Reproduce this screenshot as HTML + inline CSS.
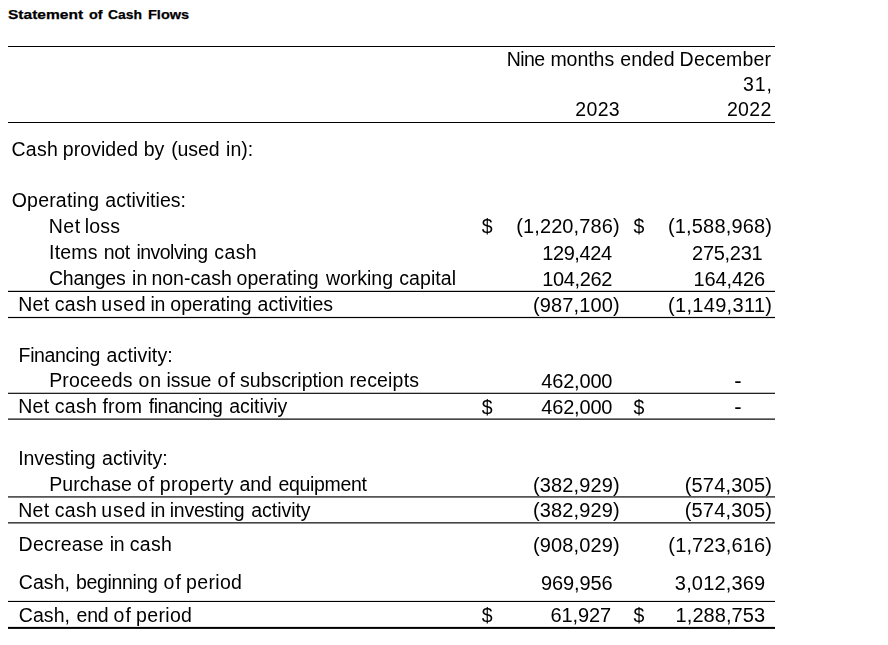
<!DOCTYPE html>
<html>
<head>
<meta charset="utf-8">
<title>Statement of Cash Flows</title>
<style>
html,body{margin:0;padding:0;background:#fff;}
body{width:888px;height:645px;position:relative;overflow:hidden;font-family:"Liberation Sans",sans-serif;color:#000;}
#tbl{position:absolute;left:0;top:0;width:888px;height:645px;will-change:transform;}
.t{position:absolute;white-space:pre;font-size:19.5px;line-height:20px;height:20px;}
.n{font-size:20px;}
.h{font-size:22px;}
svg{position:absolute;left:0;top:0;}
h1{position:absolute;left:0;top:0;margin:0;font-size:13.5px;line-height:16px;font-weight:bold;white-space:nowrap;}
h1 span{position:absolute;top:7px;transform-origin:0 0;-webkit-text-stroke:0.25px #000;}
</style>
</head>
<body>
<h1><span style="left:8.2px;transform:scaleX(1.15)">Statement</span><span style="left:88.75px;transform:scaleX(1.07)">of</span><span style="left:108px;transform:scaleX(1.03)">Cash</span><span style="left:148px;transform:scaleX(1.075)">Flows</span></h1>
<div id="tbl">
<svg width="888" height="645" viewBox="0 0 888 645">
<rect x="8" y="46" width="767" height="1" fill="#000"/>
<rect x="8" y="122" width="767" height="1" fill="#000"/>
<rect x="8" y="290.8" width="767" height="1.2" fill="#000"/>
<rect x="8" y="316.9" width="767" height="1.2" fill="#000"/>
<rect x="8" y="392.7" width="767" height="1.3" fill="#222"/>
<rect x="8" y="418.4" width="767" height="1.5" fill="#333"/>
<rect x="8" y="496.1" width="767" height="1.6" fill="#444"/>
<rect x="8" y="522.0" width="767" height="1.6" fill="#444"/>
<rect x="8" y="600.9" width="767" height="1.1" fill="#000"/>
<rect x="8" y="626.9" width="767" height="2" fill="#000"/>
</svg>
<div class="t" style="left:506.73px;top:49px;letter-spacing:-0.540px">Nine</div>
<div class="t" style="left:550.39px;top:49px;letter-spacing:-0.029px">months</div>
<div class="t" style="left:620.33px;top:49px;letter-spacing:-0.016px">ended</div>
<div class="t" style="left:679.58px;top:49px;letter-spacing:0.220px">December</div>
<div class="t" style="left:743.02px;top:74px;letter-spacing:0.850px">31,</div>
<div class="t" style="left:575.18px;top:99px;letter-spacing:0.383px">2023</div>
<div class="t" style="left:726.94px;top:99px;letter-spacing:0.303px">2022</div>
<div class="t" style="left:11.38px;top:139px;letter-spacing:0.312px">Cash</div>
<div class="t" style="left:62.76px;top:139px;letter-spacing:0.064px">provided</div>
<div class="t" style="left:143.76px;top:139px;letter-spacing:-0.084px">by</div>
<div class="t" style="left:171.15px;top:139px;letter-spacing:-0.068px">(used</div>
<div class="t" style="left:226.03px;top:139px;letter-spacing:0.049px">in):</div>
<div class="t" style="left:11.71px;top:190px;letter-spacing:0.205px">Operating</div>
<div class="t" style="left:105.30px;top:190px;letter-spacing:0.055px">activities:</div>
<div class="t" style="left:48.73px;top:216px;letter-spacing:0.530px">Net</div>
<div class="t" style="left:84.85px;top:216px;letter-spacing:0.145px">loss</div>
<div class="t" style="left:49.04px;top:242px;letter-spacing:0.193px">Items</div>
<div class="t" style="left:103.82px;top:242px;letter-spacing:-0.416px">not</div>
<div class="t" style="left:136.50px;top:242px;letter-spacing:-0.545px">involving</div>
<div class="t" style="left:214.20px;top:242px;letter-spacing:0.447px">cash</div>
<div class="t" style="left:48.91px;top:268px;letter-spacing:-0.219px">Changes</div>
<div class="t" style="left:132.03px;top:268px;letter-spacing:0.165px">in</div>
<div class="t" style="left:151.39px;top:268px;letter-spacing:0.027px">non-cash</div>
<div class="t" style="left:236.46px;top:268px;letter-spacing:0.113px">operating</div>
<div class="t" style="left:326.00px;top:268px;letter-spacing:-0.036px">working</div>
<div class="t" style="left:399.33px;top:268px;letter-spacing:0.045px">capital</div>
<div class="t" style="left:18.17px;top:294px;letter-spacing:0.354px">Net</div>
<div class="t" style="left:54.82px;top:294px;letter-spacing:0.264px">cash</div>
<div class="t" style="left:101.36px;top:294px;letter-spacing:0.676px">used</div>
<div class="t" style="left:150.50px;top:294px;letter-spacing:-0.442px">in</div>
<div class="t" style="left:170.35px;top:294px;letter-spacing:0.004px">operating</div>
<div class="t" style="left:257.55px;top:294px;letter-spacing:0.086px">activities</div>
<div class="t" style="left:18.58px;top:345px;letter-spacing:-0.350px">Financing</div>
<div class="t" style="left:106.55px;top:345px;letter-spacing:0.147px">activity:</div>
<div class="t" style="left:49.25px;top:370px;letter-spacing:0.113px">Proceeds</div>
<div class="t" style="left:138.46px;top:370px;letter-spacing:1.042px">on</div>
<div class="t" style="left:166.50px;top:370px;letter-spacing:-0.140px">issue</div>
<div class="t" style="left:217.46px;top:370px;letter-spacing:1.152px">of</div>
<div class="t" style="left:240.02px;top:370px;letter-spacing:-0.019px">subscription</div>
<div class="t" style="left:349.44px;top:370px;letter-spacing:0.183px">receipts</div>
<div class="t" style="left:18.17px;top:396px;letter-spacing:0.354px">Net</div>
<div class="t" style="left:54.82px;top:396px;letter-spacing:0.264px">cash</div>
<div class="t" style="left:102.56px;top:396px;letter-spacing:0.130px">from</div>
<div class="t" style="left:148.86px;top:396px;letter-spacing:-0.509px">financing</div>
<div class="t" style="left:229.30px;top:396px;letter-spacing:-0.063px">acitiviy</div>
<div class="t" style="left:18.27px;top:448px;letter-spacing:-0.097px">Investing</div>
<div class="t" style="left:101.95px;top:448px;letter-spacing:0.094px">activity:</div>
<div class="t" style="left:49.25px;top:474px;letter-spacing:0.040px">Purchase</div>
<div class="t" style="left:136.90px;top:474px;letter-spacing:1.008px">of</div>
<div class="t" style="left:159.76px;top:474px;letter-spacing:0.313px">property</div>
<div class="t" style="left:239.55px;top:474px;letter-spacing:-0.131px">and</div>
<div class="t" style="left:278.39px;top:474px;letter-spacing:-0.315px">equipment</div>
<div class="t" style="left:18.17px;top:500px;letter-spacing:0.354px">Net</div>
<div class="t" style="left:54.82px;top:500px;letter-spacing:0.264px">cash</div>
<div class="t" style="left:101.36px;top:500px;letter-spacing:0.676px">used</div>
<div class="t" style="left:150.50px;top:500px;letter-spacing:-0.442px">in</div>
<div class="t" style="left:169.74px;top:500px;letter-spacing:-0.248px">investing</div>
<div class="t" style="left:251.30px;top:500px;letter-spacing:-0.046px">activity</div>
<div class="t" style="left:18.58px;top:534px;letter-spacing:0.230px">Decrease</div>
<div class="t" style="left:109.74px;top:534px;letter-spacing:-0.242px">in</div>
<div class="t" style="left:129.82px;top:534px;letter-spacing:0.264px">cash</div>
<div class="t" style="left:18.71px;top:572px;letter-spacing:0.091px">Cash,</div>
<div class="t" style="left:76.07px;top:572px;letter-spacing:-0.344px">beginning</div>
<div class="t" style="left:163.46px;top:572px;letter-spacing:1.152px">of</div>
<div class="t" style="left:186.07px;top:572px;letter-spacing:0.340px">period</div>
<div class="t" style="left:18.71px;top:605px;letter-spacing:0.091px">Cash,</div>
<div class="t" style="left:76.61px;top:605px;letter-spacing:-0.251px">end</div>
<div class="t" style="left:113.46px;top:605px;letter-spacing:1.152px">of</div>
<div class="t" style="left:136.07px;top:605px;letter-spacing:0.340px">period</div>
<div class="t" style="left:481.73px;top:216px;letter-spacing:0.000px">$</div>
<div class="t n" style="left:516.33px;top:216px;letter-spacing:0.092px">(1,220,786)</div>
<div class="t" style="left:633.45px;top:216px;letter-spacing:0.000px">$</div>
<div class="t n" style="left:667.96px;top:216px;letter-spacing:0.170px">(1,588,968)</div>
<div class="t n" style="left:542.18px;top:243px;letter-spacing:-0.393px">129,424</div>
<div class="t n" style="left:692.09px;top:243px;letter-spacing:-0.293px">275,231</div>
<div class="t n" style="left:542.18px;top:269px;letter-spacing:-0.330px">104,262</div>
<div class="t n" style="left:693.56px;top:269px;letter-spacing:-0.123px">164,426</div>
<div class="t n" style="left:532.96px;top:295px;letter-spacing:0.124px">(987,100)</div>
<div class="t n" style="left:667.96px;top:295px;letter-spacing:0.327px">(1,149,311)</div>
<div class="t n" style="left:541.26px;top:371px;letter-spacing:-0.184px">462,000</div>
<div class="t h" style="left:734.24px;top:371px;letter-spacing:0.000px">-</div>
<div class="t" style="left:481.73px;top:397px;letter-spacing:0.000px">$</div>
<div class="t n" style="left:541.26px;top:397px;letter-spacing:-0.184px">462,000</div>
<div class="t" style="left:633.45px;top:397px;letter-spacing:0.000px">$</div>
<div class="t h" style="left:734.24px;top:397px;letter-spacing:0.000px">-</div>
<div class="t n" style="left:532.96px;top:475px;letter-spacing:0.124px">(382,929)</div>
<div class="t n" style="left:684.67px;top:475px;letter-spacing:0.199px">(574,305)</div>
<div class="t n" style="left:532.96px;top:500px;letter-spacing:0.124px">(382,929)</div>
<div class="t n" style="left:684.67px;top:500px;letter-spacing:0.199px">(574,305)</div>
<div class="t n" style="left:532.96px;top:535px;letter-spacing:0.124px">(908,029)</div>
<div class="t n" style="left:668.33px;top:535px;letter-spacing:0.138px">(1,723,616)</div>
<div class="t n" style="left:540.93px;top:573px;letter-spacing:-0.090px">969,956</div>
<div class="t n" style="left:674.83px;top:573px;letter-spacing:0.175px">3,012,369</div>
<div class="t" style="left:481.73px;top:605px;letter-spacing:0.000px">$</div>
<div class="t n" style="left:550.62px;top:605px;letter-spacing:-0.119px">61,927</div>
<div class="t" style="left:633.45px;top:605px;letter-spacing:0.000px">$</div>
<div class="t n" style="left:675.56px;top:605px;letter-spacing:0.076px">1,288,753</div>
</div>
</body>
</html>
